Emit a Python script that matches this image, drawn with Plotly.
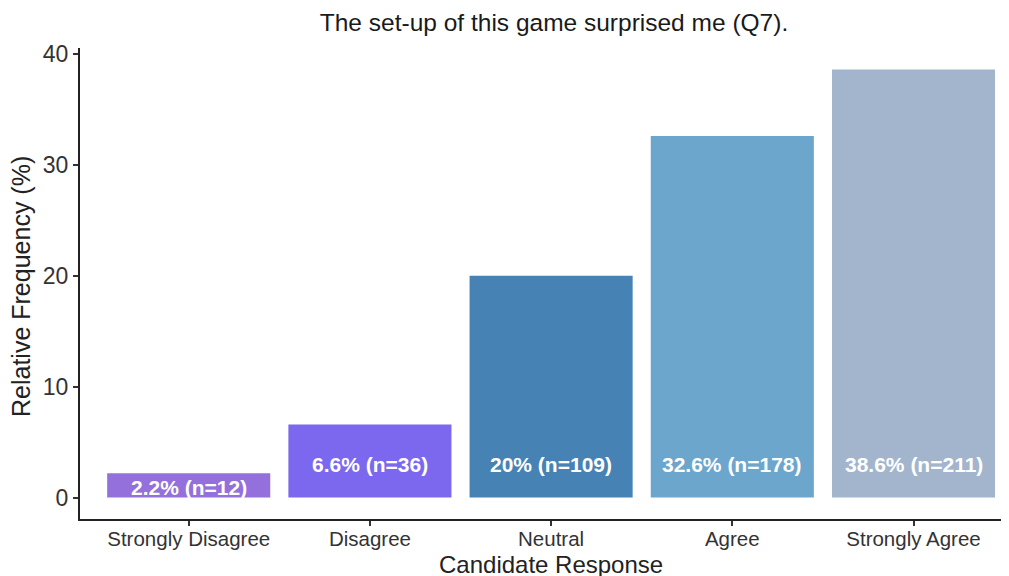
import plotly.graph_objects as go

categories = ["Strongly Disagree", "Disagree", "Neutral", "Agree", "Strongly Agree"]
percent = [2.2, 6.6, 20.0, 32.6, 38.6]
counts = [12, 36, 109, 178, 211]
pct_labels = ["2.2%", "6.6%", "20%", "32.6%", "38.6%"]
colors = ["#9370DB", "#7B68EE", "#4682B4", "#6CA6CD", "#A2B5CD"]

title_text = "The set-up of this game surprised me (Q7)."
x_title = "Candidate Response"
y_title = "Relative Frequency (%)"

FONT = "Liberation Sans, Arial, sans-serif"
W, H = 1009, 576
OFF = 8  # page body margin offset
ML, MR, MT, MB = 80 - OFF, OFF, 48 - OFF, 57 + OFF
PW = W - ML - MR
PH = H - MT - MB

fig = go.Figure()
fig.add_trace(go.Bar(
    x=list(range(len(categories))),
    y=percent,
    marker=dict(color=colors, line=dict(width=0)),
    width=0.9,
    hoverinfo="skip",
))

# value labels inside the bars
for i, (v, p, n) in enumerate(zip(percent, pct_labels, counts)):
    ly = 3.0 if v > 3 else v * 0.4
    fig.add_annotation(
        x=i, y=ly, xref="x", yref="y",
        text=f"<b>{p} (n={n})</b>",
        showarrow=False,
        font=dict(family=FONT, size=21, color="white"),
        xanchor="center", yanchor="middle",
    )

# x-axis title
fig.add_annotation(
    x=2, y=-((564 - OFF) - (MT + PH)) / PH, xref="x", yref="paper",
    text=x_title, showarrow=False,
    font=dict(family=FONT, size=24, color="#222222"),
    xanchor="center", yanchor="middle",
)

# y-axis title
fig.add_annotation(
    x=((21 - OFF) - ML) / PW, y=1 - ((287 - OFF) - MT) / PH,
    xref="paper", yref="paper",
    text=y_title, showarrow=False, textangle=-90,
    font=dict(family=FONT, size=25, color="#222222"),
    xanchor="center", yanchor="middle",
)

fig.update_layout(
    width=W, height=H,
    margin=dict(l=ML, r=MR, t=MT, b=MB, autoexpand=False),
    paper_bgcolor="white", plot_bgcolor="white",
    showlegend=False,
    title=dict(
        text=title_text, x=(554 - OFF) / W, xref="container", xanchor="center",
        y=1 - (22 - OFF) / H, yref="container", yanchor="middle",
        font=dict(family=FONT, size=24.5, color="#1a1a1a"),
    ),
    xaxis=dict(
        range=[-0.6, 4.527],
        tickmode="array",
        tickvals=list(range(len(categories))),
        ticktext=categories,
        showgrid=False, zeroline=False, automargin=False,
        showline=True, linecolor="#222222", linewidth=2.2,
        ticks="outside", ticklen=5, tickwidth=1.5, tickcolor="#333333",
        ticklabelstandoff=-5,
        tickfont=dict(family=FONT, size=20.5, color="#333333"),
    ),
    yaxis=dict(
        range=[-1.93, 40.53],
        tickmode="array",
        tickvals=[0, 10, 20, 30, 40],
        showgrid=False, zeroline=False, automargin=False,
        showline=True, linecolor="#222222", linewidth=2.2,
        ticks="outside", ticklen=5, tickwidth=1.5, tickcolor="#333333",
        tickfont=dict(family=FONT, size=23, color="#333333"),
    ),
)

fig.write_html("out.html")
